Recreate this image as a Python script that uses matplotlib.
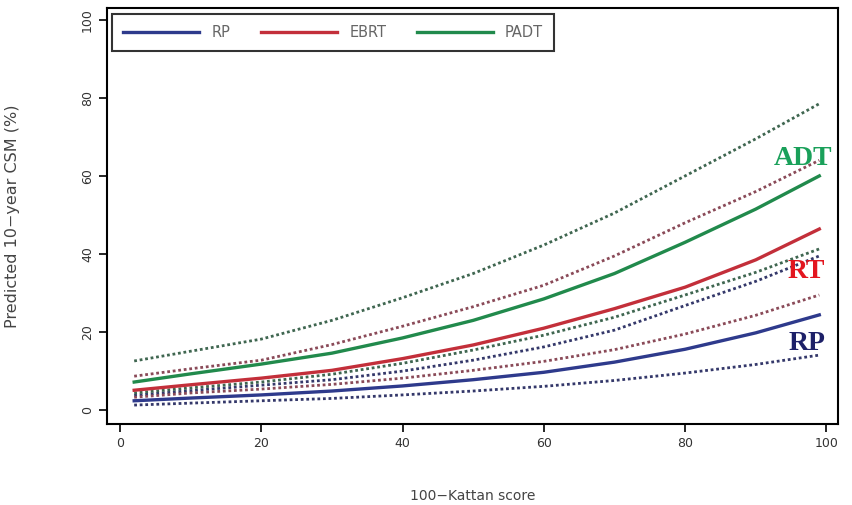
import matplotlib.pyplot as plt

# 100 - Kattan score
score = [2, 10, 20, 30, 40, 50, 60, 70, 80, 90, 99]

# predicted 10-year CSM (%) with lower / upper bounds
rp = [2.4, 3.1, 3.9, 4.9, 6.2, 7.8, 9.7, 12.3, 15.6, 19.8, 24.4]
rp_lo = [1.3, 1.8, 2.4, 3.0, 3.9, 4.9, 6.1, 7.6, 9.5, 11.7, 14.1]
rp_hi = [3.8, 5.0, 6.4, 7.8, 10.0, 12.8, 16.2, 20.5, 26.8, 33.0, 39.5]

ebrt = [5.1, 6.5, 8.2, 10.2, 13.2, 16.7, 21.0, 26.0, 31.5, 38.5, 46.4]
ebrt_lo = [3.3, 4.4, 5.4, 6.6, 8.2, 10.2, 12.5, 15.5, 19.5, 24.3, 29.5]
ebrt_hi = [8.7, 10.6, 12.8, 16.8, 21.5, 26.5, 32.0, 39.5, 48.0, 56.0, 64.0]

padt = [7.2, 9.3, 11.8, 14.6, 18.5, 23.0, 28.5, 35.0, 43.0, 51.5, 60.0]
padt_lo = [4.4, 5.7, 7.2, 9.2, 12.0, 15.4, 19.2, 23.8, 29.5, 35.3, 41.3]
padt_hi = [12.6, 15.1, 18.2, 23.0, 28.8, 35.0, 42.3, 50.5, 60.0, 69.5, 78.5]

blue = '#2e3a8c'
red = '#c32f3a'
green = '#218a4c'

fig = plt.figure(figsize=(8.52, 5.05), dpi=100)
ax = fig.add_axes([0.126, 0.160, 0.858, 0.824])

dot = (0, (1.0, 1.0))
ax.plot(score, rp_lo, color='#34386a', lw=2.0, ls=dot)
ax.plot(score, rp_hi, color='#34386a', lw=2.0, ls=dot)
ax.plot(score, ebrt_lo, color='#8a4a58', lw=2.0, ls=dot)
ax.plot(score, ebrt_hi, color='#8a4a58', lw=2.0, ls=dot)
ax.plot(score, padt_lo, color='#3f6650', lw=2.0, ls=dot)
ax.plot(score, padt_hi, color='#3f6650', lw=2.0, ls=dot)

ax.plot(score, rp, color=blue, lw=2.4, label='RP')
ax.plot(score, ebrt, color=red, lw=2.4, label='EBRT')
ax.plot(score, padt, color=green, lw=2.4, label='PADT')

serif = 'Liberation Serif'
ax.text(96.7, 64.4, 'ADT', color='#1aa05a', fontsize=20, fontweight='bold',
        family=serif, ha='center', va='center')
ax.text(97.2, 35.5, 'RT', color='#e3161f', fontsize=20, fontweight='bold',
        family=serif, ha='center', va='center')
ax.text(97.3, 17.1, 'RP', color='#1d2068', fontsize=20, fontweight='bold',
        family=serif, ha='center', va='center')

ax.set_xlim(-1.8, 101.7)
ax.set_ylim(-3.6, 103)
ax.set_xticks([0, 20, 40, 60, 80, 100])
ax.set_yticks([0, 20, 40, 60, 80, 100])
ax.tick_params(direction='out', length=6, width=1.2, labelsize=9,
               labelcolor='#333333')
for lab in ax.get_yticklabels():
    lab.set_rotation(90)
    lab.set_va('center')
for s in ax.spines.values():
    s.set_linewidth(1.5)

ax.set_ylabel('Predicted 10\u2212year CSM (%)', fontsize=11.5, color='#444444')
ax.yaxis.set_label_coords(-0.119, 0.5)
ax.set_xlabel('100\u2212Kattan score', fontsize=10, color='#444444')
ax.xaxis.set_label_coords(0.5, -0.156)
ax.xaxis.label.set_va('top')

leg = ax.legend(loc='upper left', ncol=3, fontsize=10.5, frameon=True,
                fancybox=False, edgecolor='black', handlelength=5.2,
                columnspacing=2.1, handletextpad=0.85, borderpad=0.75,
                borderaxespad=0, bbox_to_anchor=(0.0068, 0.9856))
leg.get_frame().set_linewidth(1.5)
for t in leg.get_texts():
    t.set_color('#666666')

fig.savefig('out.png', dpi=100)
